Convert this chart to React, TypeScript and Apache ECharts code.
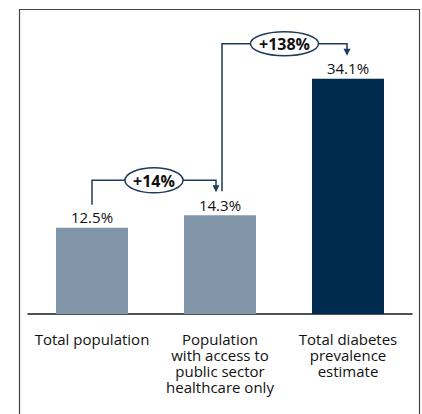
import React, { useEffect, useRef } from "react";
import * as echarts from "echarts";

const categories = [
  "Total population",
  "Population\nwith access to\npublic sector\nhealthcare only",
  "Total diabetes\nprevalence\nestimate",
];
const values = [12.5, 14.3, 34.1];
const changeLabels = ["+14%", "+138%"];
const barColors = ["#8196A8", "#8196A8", "#002B4E"];

const FONT = "'Open Sans', 'Noto Sans', sans-serif";
const LINE = "#1F3A5A";

export default function App() {
  const ref = useRef<HTMLDivElement>(null);
  useEffect(() => {
    if (!ref.current) return;
    const chart = echarts.init(ref.current, undefined, { renderer: "svg" });
    chart.setOption({
      animation: false,
      grid: { left: 28, right: 10, top: 38, bottom: 100 },
      xAxis: {
        type: "category",
        data: categories,
        axisLine: { lineStyle: { color: "#1a1a1a", width: 1.5 } },
        axisTick: { show: false },
        axisLabel: {
          interval: 0,
          fontFamily: FONT,
          fontSize: 15,
          color: "#111",
          lineHeight: 16,
          margin: 17,
          verticalAlign: "top",
        },
      },
      yAxis: { type: "value", min: 0, max: 40, show: false },
      series: [
        {
          type: "bar",
          barWidth: 72,
          data: values.map((v, i) => ({ value: v, itemStyle: { color: barColors[i] } })),
          label: {
            show: true,
            position: "top",
            distance: 3,
            formatter: "{c}%",
            fontFamily: FONT,
            fontSize: 15,
            color: "#111",
          },
        },
      ],
    });

    const px = (i: number) => chart.convertToPixel({ gridIndex: 0 }, [i, values[i]]) as number[];
    const [x0, t0] = px(0);
    const [x1, t1] = px(1);
    const [x2, t2] = px(2);

    const arrow = (x: number, tip: number) => ({
      type: "polygon",
      z: 2,
      shape: { points: [[x - 3.5, tip - 7], [x + 3.5, tip - 7], [x, tip]] },
      style: { fill: LINE },
    });
    const bubble = (cx: number, cy: number, rx: number, ry: number, text: string) => [
      {
        type: "ellipse",
        z: 3,
        shape: { cx, cy, rx, ry },
        style: { fill: "#fff", stroke: LINE, lineWidth: 1.5 },
      },
      {
        type: "text",
        z: 4,
        style: {
          text,
          x: cx,
          y: cy + 0.5,
          align: "center",
          verticalAlign: "middle",
          fontFamily: FONT,
          fontSize: 16,
          fontWeight: "bold",
          fill: "#111",
        },
      },
    ];

    const a1x = x1 - 4;
    const h1 = t1 - 35;
    const a2start = x1 + 2;
    const a2x = x2 - 1;
    const h2 = t2 - 35;

    chart.setOption({
      graphic: [
        {
          type: "rect",
          z: 0,
          shape: { x: 19.5, y: 9.5, width: 400, height: 420 },
          style: { fill: "none", stroke: "#444", lineWidth: 1.2 },
        },
        {
          type: "polyline",
          z: 1,
          shape: { points: [[x0, t0 - 23], [x0, h1], [a1x, h1], [a1x, t1 - 28]] },
          style: { stroke: LINE, lineWidth: 1.5, fill: "none" },
        },
        arrow(a1x, t1 - 23),
        ...bubble((x0 + a1x) / 2, h1, 29, 12.5, changeLabels[0]),
        {
          type: "polyline",
          z: 1,
          shape: { points: [[a2start, t1 - 24], [a2start, h2], [a2x, h2], [a2x, t2 - 28]] },
          style: { stroke: LINE, lineWidth: 1.5, fill: "none" },
        },
        arrow(a2x, t2 - 23),
        ...bubble((a2start + a2x) / 2, h2, 34, 12, changeLabels[1]),
      ],
    });

    return () => chart.dispose();
  }, []);
  return (
    <div
      ref={ref}
      style={{ position: "fixed", left: 0, top: 0, width: 422, height: 414, background: "#fff" }}
    />
  );
}
